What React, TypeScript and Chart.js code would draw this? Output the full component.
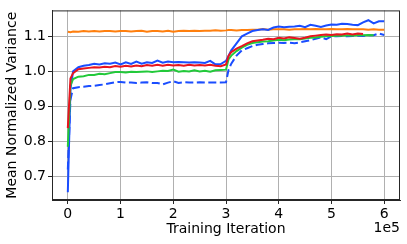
import React, { useEffect, useRef } from 'react';
import { Chart, registerables } from 'chart.js';
Chart.register(...registerables);

// Training iteration in units of 1e5
const iterations = [
  0, 0.05, 0.1, 0.2, 0.3, 0.4, 0.5, 0.6, 0.7, 0.8, 0.9,
  1.0, 1.1, 1.2, 1.3, 1.4, 1.5, 1.6, 1.7, 1.8, 1.9,
  2.0, 2.1, 2.2, 2.3, 2.4, 2.5, 2.6, 2.7, 2.8, 2.9,
  3.0, 3.05, 3.1, 3.2, 3.3, 3.4, 3.5, 3.6, 3.7, 3.8, 3.9,
  4.0, 4.1, 4.2, 4.3, 4.4, 4.5, 4.6, 4.7, 4.8, 4.9,
  5.0, 5.1, 5.2, 5.3, 5.4, 5.5, 5.6, 5.7, 5.8, 5.9, 6.0,
];

const orangeSeries = [
  1.113, 1.112, 1.114, 1.113, 1.115, 1.114, 1.115, 1.114, 1.115, 1.115, 1.114,
  1.115, 1.115, 1.114, 1.115, 1.116, 1.113, 1.115, 1.115, 1.114, 1.116,
  1.113, 1.115, 1.116, 1.115, 1.116, 1.115, 1.116, 1.116, 1.117, 1.116,
  1.117, 1.118, 1.118, 1.117, 1.118, 1.118, 1.119, 1.119, 1.121, 1.119, 1.12,
  1.12, 1.12, 1.119, 1.12, 1.12, 1.121, 1.12, 1.121, 1.12, 1.12,
  1.121, 1.12, 1.12, 1.121, 1.12, 1.12, 1.12, 1.119, 1.12, 1.119, 1.119,
];

const blueSolidSeries = [
  0.655, 0.95, 1.0, 1.012, 1.016, 1.018, 1.022, 1.02, 1.023, 1.022, 1.025,
  1.02, 1.026, 1.021, 1.028, 1.022, 1.026, 1.024, 1.031, 1.025, 1.028,
  1.026, 1.027, 1.026, 1.025, 1.026, 1.025, 1.024, 1.03, 1.02, 1.021,
  1.03, 1.045, 1.06, 1.08, 1.1, 1.108, 1.115, 1.118, 1.12, 1.118, 1.125,
  1.128, 1.126, 1.127, 1.128, 1.13, 1.126, 1.133, 1.13, 1.127, 1.131,
  1.134, 1.133, 1.136, 1.135, 1.133, 1.132, 1.14, 1.146, 1.137, 1.143, 1.143,
];

const redSeries = [
  0.838, 0.98, 0.995, 1.006, 1.008, 1.01, 1.012, 1.011, 1.013, 1.012, 1.015,
  1.013, 1.016, 1.014, 1.017, 1.015, 1.018, 1.016, 1.019, 1.016, 1.019,
  1.017, 1.018, 1.016, 1.019, 1.017, 1.018, 1.017, 1.019, 1.016, 1.015,
  1.02, 1.045, 1.055, 1.065, 1.072, 1.08, 1.086, 1.088, 1.09, 1.093, 1.092,
  1.096, 1.094, 1.097, 1.095, 1.093, 1.096, 1.1, 1.102, 1.104, 1.105,
  1.104, 1.106, 1.105, 1.108, 1.105, 1.108, 1.107, null, null, null, null,
];

const greenSeries = [
  0.785, 0.96, 0.978, 0.985, 0.986, 0.99, 0.99, 0.993, 0.992, 0.995, 0.998,
  0.998, 0.997, 0.999, 0.998, 0.999, 1.0, 0.998, 1.0, 1.002, 1.001,
  1.005, 0.999, 1.001, 1.0, 1.003, 1.0, 1.002, 0.999, 1.003, 1.004,
  1.005, 1.035, 1.045, 1.058, 1.068, 1.076, 1.081, 1.083, 1.085, 1.086, 1.088,
  1.09, 1.089, 1.091, 1.092, 1.092, 1.094, 1.096, 1.097, 1.099, 1.1,
  1.101, 1.102, 1.102, 1.103, 1.102, 1.104, 1.103, 1.104, 1.103, null, null,
];

const blueDashedSeries = [
  0.72, 0.92, 0.952, 0.955, 0.956, 0.958, 0.959, 0.961, 0.963, 0.966, 0.969,
  0.97, 0.968, 0.968, 0.967, 0.968, 0.969, 0.967, 0.967, 0.963, 0.968,
  0.972, 0.967, 0.969, 0.968, 0.968, 0.969, 0.968, 0.968, 0.968, 0.968,
  0.969, 1.005, 1.022, 1.045, 1.06, 1.066, 1.072, 1.076, 1.078, 1.08, 1.081,
  1.082, 1.081, 1.082, 1.08, 1.083, 1.086, 1.089, 1.093, 1.097, 1.092,
  1.1, 1.1, 1.101, 1.1, 1.101, 1.102, 1.101, 1.103, 1.103, 1.108, 1.104,
];

const xTicks = [0, 1, 2, 3, 4, 5, 6];
const xTickLabels = ['0', '1', '2', '3', '4', '5', '6'];
const yTicks = [0.7, 0.8, 0.9, 1.0, 1.1];
const yTickLabels = ['0.7', '0.8', '0.9', '1.0', '1.1'];
const xTitle = 'Training Iteration';
const yTitle = 'Mean Normalized Variance';
const xOffsetLabel = '1e5';

const FONT = "'DejaVu Sans', sans-serif";

export default function App() {
  const ref = useRef<HTMLCanvasElement>(null);
  useEffect(() => {
    document.body.style.margin = '0';
    const toPts = (ys: (number | null)[]) =>
      iterations
        .map((x, i) => ({ x, y: ys[i] }))
        .filter((p) => p.y !== null) as { x: number; y: number }[];

    const framePlugin = {
      id: 'frame',
      afterDatasetsDraw(chart: any) {
        const { ctx, chartArea: a } = chart;
        ctx.save();
        ctx.strokeStyle = '#262626';
        ctx.lineWidth = 1;
        ctx.strokeRect(a.left + 0.5, a.top + 0.5, a.right - a.left - 1, a.bottom - a.top - 1);
        ctx.restore();
      },
      afterDraw(chart: any) {
        const { ctx, chartArea: a } = chart;
        ctx.save();
        ctx.fillStyle = '#000';
        ctx.font = `14px ${FONT}`;
        ctx.textAlign = 'right';
        ctx.textBaseline = 'middle';
        ctx.fillText(xOffsetLabel, a.right, 228);
        ctx.restore();
      },
    };

    const lineDs = (label: string, ys: (number | null)[], color: string, dash?: number[]) => ({
      label,
      data: toPts(ys),
      borderColor: color,
      backgroundColor: color,
      borderWidth: 2,
      borderDash: dash || [],
      pointRadius: 0,
      tension: 0,
      fill: false,
    });

    const chart = new Chart(ref.current!, {
      type: 'line',
      data: {
        datasets: [
          lineDs('red', redSeries, '#e8141e'),
          lineDs('green', greenSeries, '#22c93a'),
          lineDs('blueDashed', blueDashedSeries, '#1a4dff', [8, 3.5]),
          lineDs('blue', blueSolidSeries, '#1a4dff'),
          lineDs('orange', orangeSeries, '#ff7f0e'),
        ],
      },
      options: {
        responsive: false,
        animation: false,
        devicePixelRatio: 1,
        layout: { padding: { top: 5, right: 7, left: 0, bottom: 0 } },
        plugins: { legend: { display: false }, tooltip: { enabled: false } },
        scales: {
          x: {
            type: 'linear',
            min: -0.3,
            max: 6.3,
            afterBuildTicks: (s: any) => {
              s.ticks = xTicks.map((v) => ({ value: v }));
            },
            afterFit: (s: any) => {
              s.height = 44;
            },
            ticks: {
              callback: (v: any) => xTickLabels[xTicks.indexOf(Number(v))] ?? '',
              font: { family: FONT, size: 14 },
              color: '#000',
              padding: 2,
              maxRotation: 0,
            },
            grid: { color: '#b0b0b0', lineWidth: 1, tickLength: 4, tickColor: '#262626' },
            border: { display: true, color: '#262626' },
            title: {
              display: true,
              text: xTitle,
              font: { family: FONT, size: 14 },
              color: '#000',
              padding: { top: 0, bottom: 6 },
            },
          },
          y: {
            type: 'linear',
            min: 0.633,
            max: 1.174,
            afterBuildTicks: (s: any) => {
              s.ticks = yTicks.map((v) => ({ value: v }));
            },
            afterFit: (s: any) => {
              s.width = 52;
            },
            ticks: {
              callback: (v: any) => {
                const i = yTicks.findIndex((t) => Math.abs(t - Number(v)) < 1e-6);
                return i >= 0 ? yTickLabels[i] : '';
              },
              font: { family: FONT, size: 14 },
              color: '#000',
              padding: 2,
            },
            grid: { color: '#b0b0b0', lineWidth: 1, tickLength: 4, tickColor: '#262626' },
            border: { display: true, color: '#262626' },
            title: {
              display: true,
              text: yTitle,
              font: { family: FONT, size: 14 },
              color: '#000',
              padding: { top: 4, bottom: 0 },
            },
          },
        },
      },
      plugins: [framePlugin],
    });
    return () => chart.destroy();
  }, []);
  return (
    <div style={{ width: 407, height: 244 }}>
      <canvas ref={ref} width={407} height={244} />
    </div>
  );
}
